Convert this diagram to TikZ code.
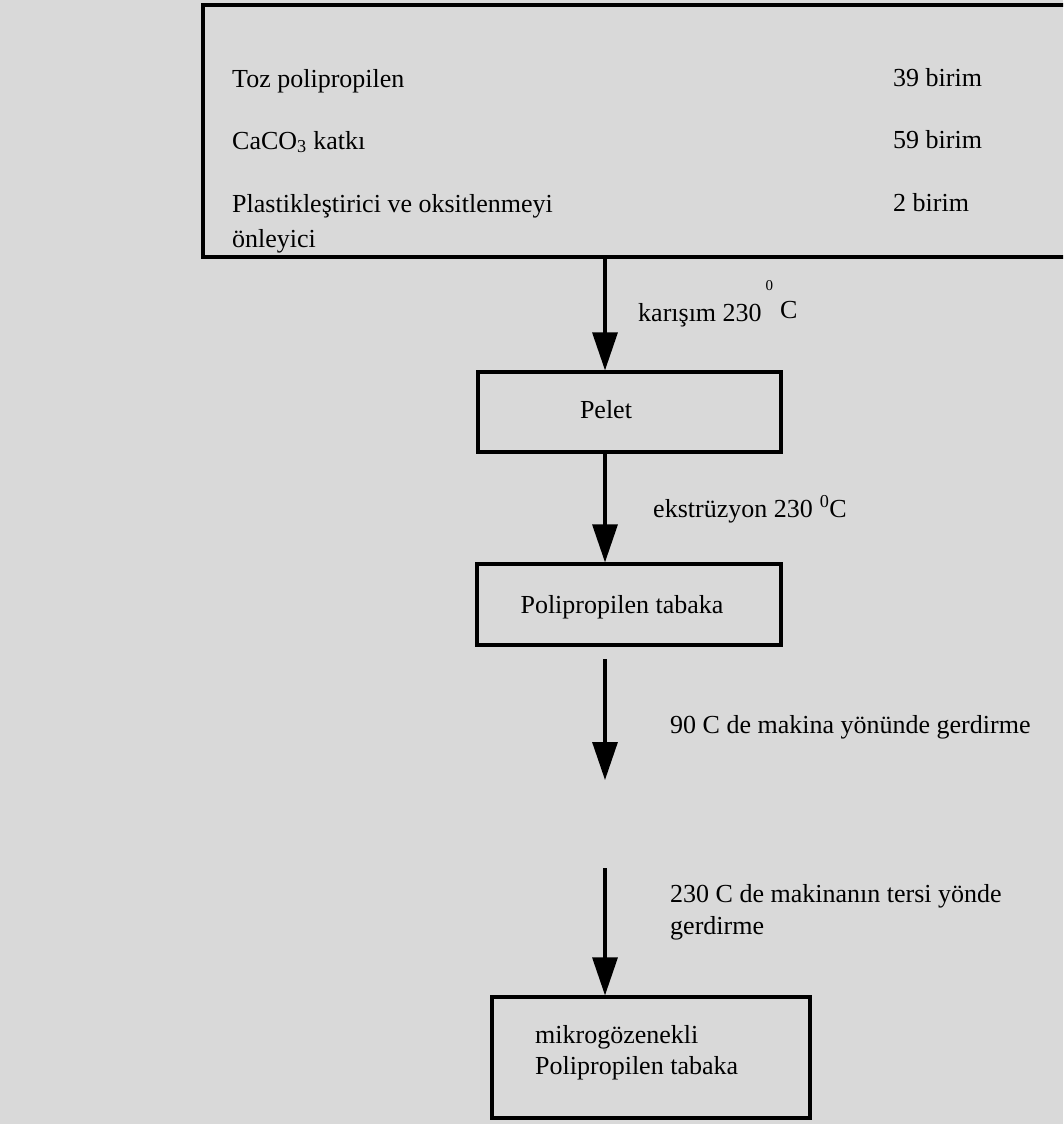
\documentclass[tikz,border=0pt]{standalone}
\usepackage{fontspec}
\setmainfont{Liberation Serif}
\usetikzlibrary{arrows.meta}
\definecolor{scangray}{gray}{0.85}
\tikzset{
	box/.style={draw=black, line width=3.2pt, inner sep=0pt},
	txt/.style={anchor=base west, inner sep=0pt, font=\fontsize{26}{31}\selectfont},
	flow/.style={line width=3.2pt, -{Triangle[length=38pt, width=25pt]}},
}

\begin{document}
\begin{tikzpicture}[x=1pt, y=-1pt]
		%%%%% START %%%%%
		
		\useasboundingbox (0,0) rectangle (1063,1124);
		\clip (0,0) rectangle (1063,1124);
		\fill[scangray] (0,0) rectangle (1063,1124);
		
		\coordinate (axis) at (605,0);
		
		% ingredients
		\node[box, minimum width=880pt, minimum height=252pt] (recipe) at (643,131) {};
		\node[txt] (toz) at (232,87) {Toz polipropilen};
		\node[txt] (caco) at (232,149) {CaCO\textsubscript{3} katkı};
		\node[txt] (plast) at (232,212) {Plastikleştirici ve oksitlenmeyi};
		\node[txt] (onley) at (232,247) {önleyici};
		\node[txt] (b39) at (893,86) {39 birim};
		\node[txt] (b59) at (893,148) {59 birim};
		\node[txt] (b2) at (893,211) {2 birim};
		
		% steps
		\node[box, minimum width=303pt, minimum height=80pt] (pelet) at (629.5,412) {};
		\node[txt, anchor=base] (peletlbl) at (606,418) {Pelet};
		
		\node[box, minimum width=304pt, minimum height=81pt] (pptab) at (629,604.5) {};
		\node[txt, anchor=base] (pptablbl) at (622,613) {Polipropilen tabaka};
		
		\node[box, minimum width=318pt, minimum height=121pt] (micro) at (651,1057.5) {};
		\node[txt] (microlbl) at (535,1043) {mikrogözenekli};
		\node[txt] (microlbl2) at (535,1074) {Polipropilen tabaka};
		
		% arrows
		\coordinate (s3a) at (605,659);
		\coordinate (s3b) at (605,780);
		\coordinate (s4a) at (605,868);
		\draw[flow] (recipe.south -| axis) -- (pelet.north -| axis);
		\draw[flow] (pelet.south -| axis) -- (pptab.north -| axis);
		\draw[flow] (s3a) -- (s3b);
		\draw[flow] (s4a) -- (micro.north -| axis);
		
		% conditions
		\node[txt] (mix) at (638,321) {karışım 230\hspace{4pt}\raisebox{31pt}{\fontsize{15}{15}\selectfont 0}\hspace{7pt}\raisebox{3pt}{C}};
		\node[txt] (extr) at (653,517) {ekstrüzyon 230\hspace{7pt}\textsuperscript{0}C};
		\node[txt] (mdir) at (670,733) {90 C de makina yönünde gerdirme};
		\node[txt] (tdir) at (670,902) {230 C de makinanın tersi yönde};
		\node[txt] (tdir2) at (670,934) {gerdirme};
		
		%%%%% END %%%%%
\end{tikzpicture}
\end{document}
